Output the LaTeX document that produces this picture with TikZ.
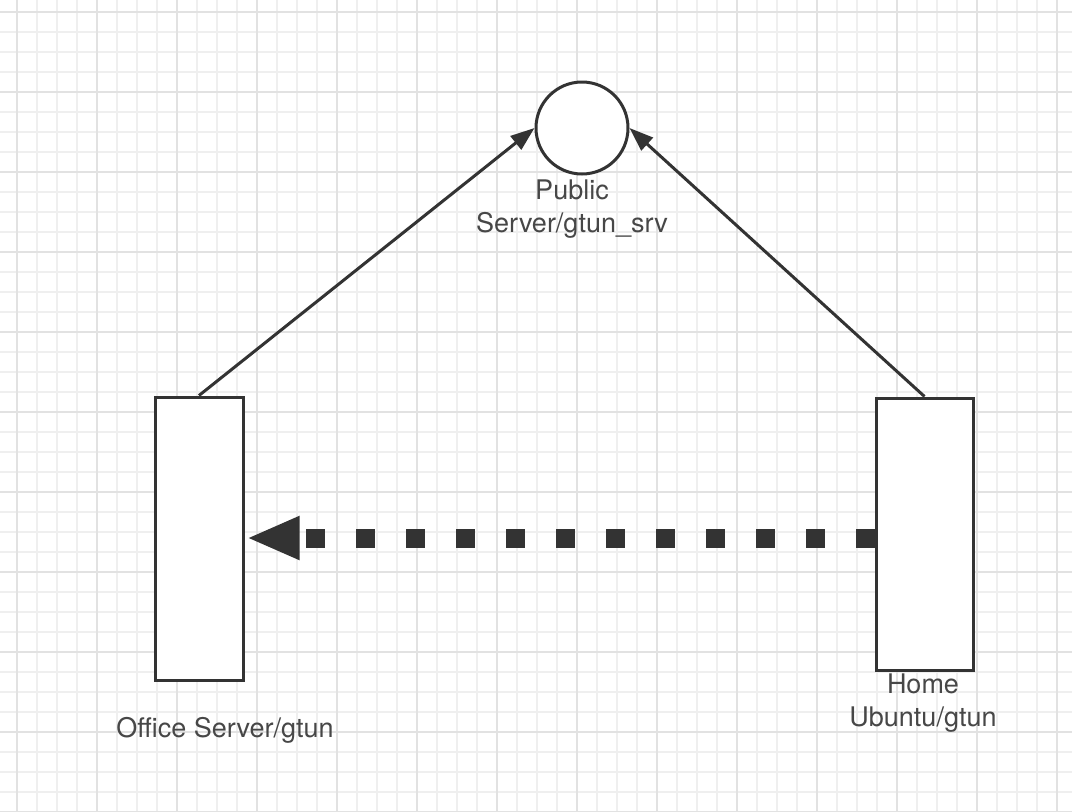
\documentclass[tikz,border=0pt]{standalone}
\usepackage{fontspec}
\setmainfont{TeX Gyre Heros}
\usetikzlibrary{arrows.meta}

\definecolor{ink}{HTML}{333333}
\definecolor{gridminor}{HTML}{EFEFEF}
\definecolor{gridmajor}{HTML}{E2E2E2}

\begin{document}
\begin{tikzpicture}[x=1pt,y=-1pt,
  host/.style={rectangle,draw=ink,line width=3pt,fill=white,inner sep=0pt},
  srv/.style={circle,draw=ink,line width=3pt,fill=white,inner sep=0pt,minimum size=92pt},
  lbl/.style={text=ink!90,font=\fontsize{27}{33}\selectfont,align=center,inner sep=0pt},
  link/.style={draw=ink,line width=3pt,-{Triangle[length=24pt,width=17pt]}},
  tunnel/.style={draw=ink,line width=19pt,dash pattern=on 19pt off 31pt,-{Triangle[length=53pt,width=40pt]}}]

\useasboundingbox (0,0) rectangle (1072,812);
\fill [white] (0,0) rectangle (1072,812);

% background grid
\foreach \x in {16.7,36.7,...,1072} {
\draw [gridminor,line width=2pt] (\x,0) -- (\x,812);
}
\foreach \y in {11.7,31.7,...,812} {
\draw [gridminor,line width=2pt] (0,\y) -- (1072,\y);
}
\foreach \x in {16.7,96.7,...,1072} {
\draw [gridmajor,line width=2pt] (\x,0) -- (\x,812);
}
\foreach \y in {11.7,91.7,...,812} {
\draw [gridmajor,line width=2pt] (0,\y) -- (1072,\y);
}

\node [srv] (pub) at (582,128) {};
\node [lbl] (publbl) at (572,209) {Public\\Server/gtun\_srv};

\node [host,minimum width=88pt,minimum height=283pt] (office) at (199,538.5) {};
\node [lbl] (officelbl) at (225,730.5) {Office Server/gtun};

\node [host,minimum width=97pt,minimum height=272pt] (home) at (924.5,534) {};
\node [lbl] (homelbl) at (923,703) {Home\\Ubuntu/gtun};

\draw [link] (office.north) to (pub.west);
\draw [link] (home.north) to (pub.east);

\draw [tunnel,shorten >=2pt] (home.west |- 0,538) to (office.east |- 0,538);

\end{tikzpicture}
\end{document}
